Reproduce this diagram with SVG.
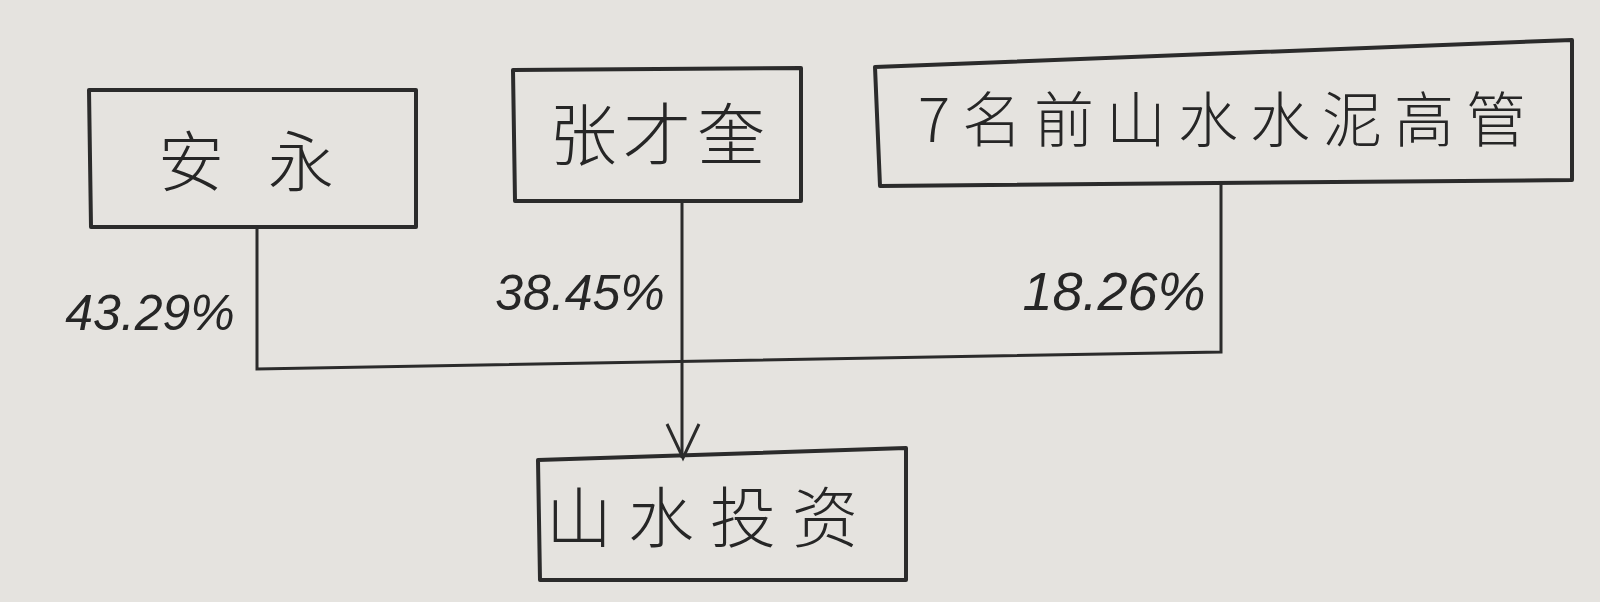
<svg xmlns="http://www.w3.org/2000/svg" width="1600" height="602" viewBox="0 0 1600 602">
<defs>
<style>
.box{fill:none;stroke:#2b2b2b;stroke-width:4;stroke-linejoin:round}
.ln{fill:none;stroke:#2b2b2b;stroke-width:3}
.cn{font-family:"Noto Sans CJK SC","Noto Sans CJK TC",sans-serif;fill:#262626;text-anchor:middle;font-weight:300}
.pct{font-family:"Liberation Sans","Noto Sans",sans-serif;fill:#262626;font-style:italic;text-anchor:middle}
</style>
</defs>
<rect width="1600" height="602" fill="#e5e3df"/>
<g id="connectors">
<path class="ln" d="M257 227 L257 369 L1221 352 L1221 184"/>
<path class="ln" d="M682 201 L682 458"/>
<path class="ln" d="M667 424 L683 458 L699 424"/>
</g>
<g id="node-anyong">
<path class="box" d="M89 90 L416 90 L416 227 L91 227 Z"/>
<text class="cn" x="268" y="186" font-size="66" letter-spacing="44">安永</text>
</g>
<g id="node-zhangcaikui">
<path class="box" d="M513 70 L801 68 L801 201 L515 201 Z"/>
<text class="cn" x="660" y="160" font-size="68" letter-spacing="6">张才奎</text>
</g>
<g id="node-executives">
<path class="box" d="M875 67 L1572 40 L1572 180 L880 186 Z"/>
<text class="cn" x="1228" y="142" font-size="60" letter-spacing="12">7名前山水水泥高管</text>
</g>
<g id="node-shanshui">
<path class="box" d="M538 460 L906 448 L906 580 L540 580 Z"/>
<text class="cn" x="710" y="542" font-size="66" letter-spacing="16">山水投资</text>
</g>
<g id="labels">
<text class="pct" x="150" y="330" font-size="50">43.29%</text>
<text class="pct" x="580" y="310" font-size="50">38.45%</text>
<text class="pct" x="1114" y="310" font-size="54">18.26%</text>
</g>
</svg>
